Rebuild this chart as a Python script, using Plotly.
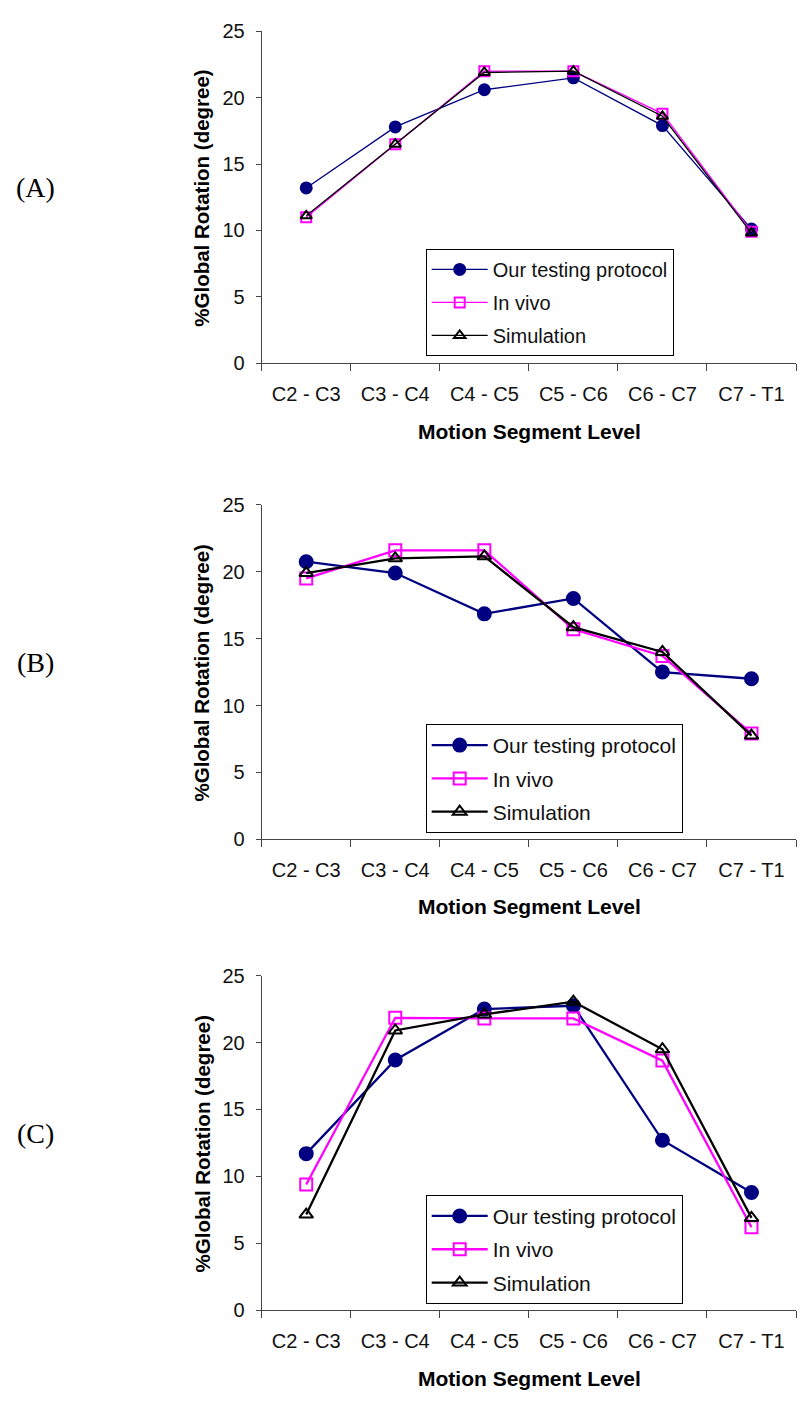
import plotly.graph_objects as go

categories = ["C2 - C3", "C3 - C4", "C4 - C5", "C5 - C6", "C6 - C7", "C7 - T1"]
series_names = ["Our testing protocol", "In vivo", "Simulation"]

a_protocol = [13.2, 17.8, 20.6, 21.5, 17.9, 10.1]
a_invivo = [11.0, 16.5, 22.0, 22.0, 18.8, 9.9]
a_sim = [11.1, 16.5, 21.9, 22.0, 18.6, 9.8]

b_protocol = [20.75, 19.9, 16.85, 18.0, 12.5, 12.0]
b_invivo = [19.5, 21.6, 21.6, 15.7, 13.7, 7.9]
b_sim = [19.9, 21.0, 21.15, 15.85, 14.0, 7.75]

c_protocol = [11.7, 18.7, 22.5, 22.75, 12.7, 8.8]
c_invivo = [9.4, 21.85, 21.8, 21.8, 18.65, 6.2]
c_sim = [7.15, 20.9, 22.1, 23.05, 19.5, 6.9]

panel_labels = ["(A)", "(B)", "(C)"]
y_ticks = [0, 5, 10, 15, 20, 25]

W, H = 803, 1401
FONT = "Liberation Sans, Arial, sans-serif"

def fy(px):
    return 1 - px / H

panels = [
    dict(data=[a_protocol, a_invivo, a_sim], top=20.7, bot=357.7, lw=1.3, ms=11,
         leg=(425.7, 241.7), legfont=20, leggap=4, label_y=179, xtitle_y=427),
    dict(data=[b_protocol, b_invivo, b_sim], top=501.7, bot=841.5, lw=2.3, ms=13,
         leg=(425.7, 724.3), legfont=21, leggap=3, label_y=662, xtitle_y=910),
    dict(data=[c_protocol, c_invivo, c_sim], top=980, bot=1320, lw=2.3, ms=13,
         leg=(425.7, 1202.7), legfont=21, leggap=3, label_y=1140, xtitle_y=1389),
]

colors = ["#000080", "#FF00FF", "#000000"]
symbols = ["circle", "square-open", "triangle-up-open"]

fig = go.Figure()
annotations = []
x0, x1 = 261.7 / W, 796 / W

for i, p in enumerate(panels):
    sfx = "" if i == 0 else str(i + 1)
    legname = "legend" if i == 0 else f"legend{i + 1}"
    for j, vals in enumerate(p["data"]):
        fig.add_trace(go.Scatter(
            x=categories, y=vals, mode="lines+markers", name=series_names[j],
            line=dict(color=colors[j], width=p["lw"]),
            marker=dict(symbol=symbols[j], size=p["ms"] if j == 0 else p["ms"] - 1,
                        color=colors[j], line=dict(color=colors[j], width=2)),
            xaxis="x" + sfx, yaxis="y" + sfx, legend=legname,
            legendgroup=f"g{i}{j}",
        ))
    fig.layout["xaxis" + sfx] = dict(
        domain=[x0, x1], anchor="y" + sfx, type="category",
        range=[-0.5, 5.5], tickson="boundaries", ticks="outside", ticklen=7,
        tickcolor="#444", showline=True, linecolor="#444", linewidth=1,
        showgrid=False, zeroline=False, tickfont=dict(family=FONT, size=20, color="#111"),
        ticklabelstandoff=13,
    )
    fig.layout["yaxis" + sfx] = dict(
        domain=[fy(p["bot"]), fy(p["top"])], anchor="x" + sfx,
        range=[0, 25], tickvals=y_ticks, ticks="outside", ticklen=5,
        tickcolor="#444", showline=True, linecolor="#444", linewidth=1,
        showgrid=False, zeroline=False, tickfont=dict(family=FONT, size=20, color="#111"),
        ticklabelstandoff=7,
    )
    fig.layout[legname] = dict(
        x=p["leg"][0] / W, y=fy(p["leg"][1]), xanchor="left", yanchor="top",
        xref="paper", yref="paper",
        bordercolor="#000", borderwidth=1, bgcolor="white",
        font=dict(family=FONT, size=p["legfont"], color="#111"),
        tracegroupgap=p["leggap"], itemwidth=56,
    )
    annotations.append(dict(text=panel_labels[i], x=35 / W, y=fy(p["label_y"]),
                            xref="paper", yref="paper", showarrow=False,
                            xanchor="center", yanchor="middle",
                            font=dict(family="Liberation Serif, Times New Roman, serif", size=28, color="#000")))
    annotations.append(dict(text="<b>Motion Segment Level</b>", x=529 / W, y=fy(p["xtitle_y"]),
                            xref="paper", yref="paper", showarrow=False,
                            xanchor="center", yanchor="middle",
                            font=dict(family=FONT, size=21, color="#000")))
    annotations.append(dict(text="<b>%Global Rotation (degree)</b>", x=202 / W,
                            y=fy((p["top"] + p["bot"]) / 2 + 1.5), textangle=-90,
                            xref="paper", yref="paper", showarrow=False,
                            xanchor="center", yanchor="middle",
                            font=dict(family=FONT, size=20.5, color="#000")))

fig.update_layout(
    width=W, height=H, margin=dict(l=0, r=0, t=0, b=0),
    paper_bgcolor="white", plot_bgcolor="white",
    annotations=annotations, showlegend=True,
)

fig.write_html("out.html")
